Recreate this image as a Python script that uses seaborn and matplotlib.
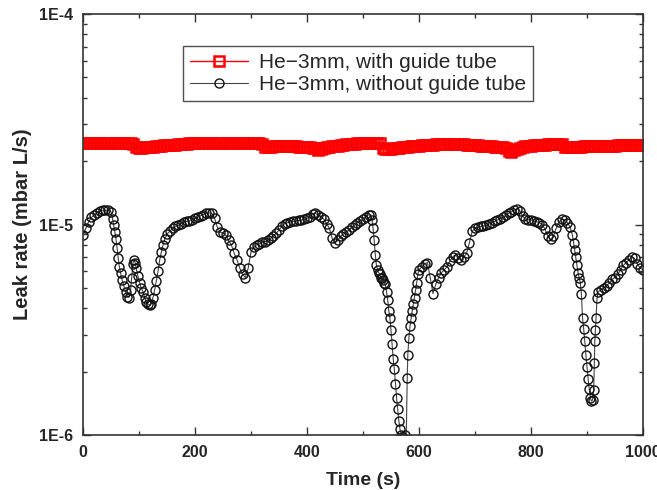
import numpy as np
import pandas as pd
import seaborn as sns
from matplotlib import pyplot as plt
from matplotlib.ticker import FixedLocator, FuncFormatter, LogLocator, MultipleLocator, NullFormatter

label_red = "He\u22123mm, with guide tube"
label_black = "He\u22123mm, without guide tube"

# leak rates are given in units of 1E-6 mbar L/s
red_time = np.arange(0, 1001, 5)
red_leak = [
    24.4, 24.4, 24.4, 24.4, 24.4, 24.4, 24.4, 24.4, 24.4, 24.4, 24.4, 24.4, 24.4, 24.4, 24.4, 24.4, 24.4, 24.4,
    24.2, 23.4, 23.2, 23.2, 23.3, 23.35, 23.4, 23.45, 23.5, 23.6, 23.7, 23.75,
    23.8, 23.85, 23.9, 23.95, 24.0, 24.1, 24.2, 24.25, 24.3, 24.35, 24.4, 24.45,
    24.5, 24.5, 24.5, 24.5, 24.5, 24.5, 24.5, 24.5, 24.5, 24.5, 24.5,
    24.5, 24.5, 24.5, 24.5, 24.5, 24.5, 24.5, 24.5, 24.5, 24.5, 24.5,
    24.2, 23.4, 23.4, 23.45, 23.5, 23.5, 23.55, 23.6, 23.6, 23.6,
    23.55, 23.5, 23.5, 23.45, 23.4, 23.4, 23.4, 23.3, 23.2, 23.0,
    22.6, 22.8, 23.1, 23.25, 23.4, 23.5, 23.6, 23.7, 23.8, 23.9,
    24.0, 24.05, 24.1, 24.2, 24.3, 24.35, 24.4, 24.45, 24.5, 24.5,
    24.5, 24.5, 24.4, 23.0, 22.8, 22.85, 22.9, 23.0, 23.1, 23.2,
    23.3, 23.35, 23.4, 23.5, 23.6, 23.65, 23.7, 23.75, 23.8, 23.85,
    23.9, 23.95, 24.0, 24.05, 24.1, 24.1, 24.1, 24.15, 24.2, 24.15,
    24.1, 24.05, 24.0, 23.95, 23.9, 23.85, 23.8, 23.75, 23.7, 23.65,
    23.6, 23.55, 23.5, 23.45, 23.4, 23.35, 23.3, 23.0, 22.4, 22.1,
    22.5, 22.9, 23.2, 23.35, 23.5, 23.6, 23.7, 23.75, 23.8, 23.85,
    23.9, 23.95, 24.0, 24.05, 24.1, 24.1, 24.1, 24.1, 23.4, 23.3,
    23.35, 23.4, 23.4, 23.45, 23.45, 23.5, 23.5, 23.55, 23.55, 23.6,
    23.6, 23.6, 23.65, 23.65, 23.7, 23.7, 23.7, 23.75, 23.75, 23.8,
    23.8, 23.85, 23.85, 23.85, 23.9, 23.9, 23.9,
]

black_time = [
    0, 5, 10, 15, 20, 25, 30, 35, 40, 45, 50,
    53, 55, 57, 59, 61, 63, 65, 67, 70, 73, 76, 79,
    82, 85, 87, 89, 91, 93, 95, 98, 101, 104, 107, 110,
    113, 116, 119, 122, 125, 128, 131, 134, 137, 140, 143, 146,
    150, 155, 160, 165, 170, 175, 180, 185, 190, 195, 200, 205,
    210, 215, 220, 225, 230, 235, 240, 245, 250, 255, 260, 265,
    270, 275, 280, 285, 290, 295, 300, 305, 310, 315, 320, 325,
    330, 335, 340, 345, 350, 355, 360, 365, 370, 375, 380, 385,
    390, 395, 400, 405, 410, 415, 420, 425, 430, 435, 440, 445,
    450, 455, 460, 465, 470, 475, 480, 485, 490, 495, 500, 505,
    510, 514, 516, 518, 520, 522, 524, 526, 528, 530, 532, 534,
    536, 538, 540, 542, 544, 546, 548, 550, 552, 554, 556, 558,
    560, 562, 564, 566, 568, 570, 572, 575, 577, 579, 580, 582,
    584, 586, 588, 590, 592, 594, 596, 598, 600, 605, 610, 615,
    620, 625, 630, 635, 640, 645, 650, 655, 660, 665, 670, 675,
    680, 685, 690, 695, 700, 705, 710, 715, 720, 725, 730, 735,
    740, 745, 750, 755, 760, 765, 770, 775, 780, 785, 790, 795,
    800, 805, 810, 815, 820, 825, 830, 835, 840, 845, 850, 855,
    860, 865, 870, 874, 876, 878, 880, 882, 884, 886, 888, 890,
    892, 894, 896, 898, 900, 902, 904, 906, 908, 910, 912, 913,
    914, 915, 916, 918, 920, 925, 930, 935, 940, 945, 950, 955,
    960, 965, 970, 975, 980, 985, 990, 995, 1000,
]
black_leak = [
    8.9, 9.6, 10.3, 10.8, 11.1, 11.4, 11.6, 11.7, 11.7, 11.7, 11.5,
    10.6, 9.9, 9.2, 8.5, 7.7, 6.9, 6.3, 5.9, 5.45, 5.1, 4.8, 4.55,
    4.5, 4.9, 5.6, 6.5, 6.8, 6.6, 6.2, 5.7, 5.3, 5.0, 4.8, 4.5,
    4.3, 4.2, 4.15, 4.2, 4.5, 4.9, 5.4, 6.0, 6.8, 7.4, 8.0, 8.5,
    9.0, 9.3, 9.6, 9.8, 9.9, 10.1, 10.3, 10.35, 10.4, 10.55, 10.7, 10.85,
    11.0, 11.15, 11.3, 11.35, 11.3, 10.7, 9.7, 9.2, 9.1, 8.9, 8.4, 8.0,
    7.3, 6.8, 6.2, 5.8, 5.6, 6.2, 7.4, 7.8, 8.0, 8.1, 8.25, 8.3,
    8.4, 8.6, 8.8, 9.1, 9.4, 9.8, 10.1, 10.2, 10.3, 10.35, 10.4, 10.45,
    10.5, 10.6, 10.7, 10.9, 11.2, 11.3, 11.1, 10.9, 10.6, 10.1, 9.6, 8.6,
    8.2, 8.4, 8.8, 9.0, 9.2, 9.45, 9.7, 9.95, 10.2, 10.4, 10.6, 10.9,
    11.1, 11.1, 10.5, 9.6, 8.4, 7.2, 6.4, 6.1, 5.9, 5.8, 5.6, 5.57,
    5.45, 5.3, 5.2, 4.8, 4.4, 3.9, 3.6, 3.15, 2.7, 2.3, 2.05, 1.74,
    1.5, 1.33, 1.17, 1.07, 1.0, 0.97, 0.97, 1.0, 0.9, 1.87, 2.4, 2.9,
    3.3, 3.6, 3.9, 4.2, 4.5, 4.9, 5.3, 5.8, 6.1, 6.3, 6.5, 6.6,
    5.6, 4.7, 5.2, 5.6, 5.9, 6.1, 6.3, 6.7, 7.0, 7.2, 6.9, 6.8,
    7.0, 7.3, 8.2, 9.3, 9.6, 9.7, 9.8, 9.85, 9.9, 10.05, 10.2, 10.35,
    10.5, 10.65, 10.8, 11.05, 11.3, 11.5, 11.7, 11.9, 11.6, 11.0, 10.6, 10.55,
    10.5, 10.4, 10.3, 10.2, 10.0, 9.5, 8.8, 8.5, 8.8, 9.6, 10.3, 10.6,
    10.5, 10.2, 9.7, 8.9, 8.2, 7.6, 7.0, 6.4, 5.9, 5.6, 5.3, 4.7,
    3.6, 3.2, 2.8, 2.4, 2.1, 1.85, 1.65, 1.5, 1.45, 1.47, 1.64, 2.2,
    2.8, 3.15, 3.6, 4.5, 4.8, 4.9, 5.0, 5.1, 5.3, 5.5, 5.6, 5.8,
    6.1, 6.4, 6.6, 6.8, 7.0, 6.9, 6.5, 6.2, 6.1,
]

y_ticks = [1e-6, 1e-5, 1e-4]
y_tick_labels = ["1E-6", "1E-5", "1E-4"]

df_red = pd.DataFrame({"time": red_time[:len(red_leak)], "leak": np.array(red_leak) * 1e-6})
df_black = pd.DataFrame({"time": black_time, "leak": np.array(black_leak) * 1e-6})

sns.set_style("ticks")
plt.rcParams["font.family"] = ["Liberation Sans", "DejaVu Sans"]

fig, ax = plt.subplots(figsize=(6.57, 4.9), dpi=100)
fig.subplots_adjust(left=0.1263, right=0.9787, top=0.9714, bottom=0.1122)

sns.lineplot(data=df_red, x="time", y="leak", ax=ax, color="red", lw=1.0,
             marker="s", markersize=6.5, markerfacecolor="none", markeredgecolor="red",
             markeredgewidth=1.8, label=label_red, estimator=None, sort=False)
sns.lineplot(data=df_black, x="time", y="leak", ax=ax, color="#444444", lw=0.8,
             marker="o", markersize=6.5, markerfacecolor="none", markeredgecolor="#111111",
             markeredgewidth=1.0, label=label_black, estimator=None, sort=False)

ax.set_yscale("log")
ax.set_xlim(0, 1000)
ax.set_ylim(1e-6, 1e-4)
ax.yaxis.set_major_locator(FixedLocator(y_ticks))
ax.yaxis.set_major_formatter(FuncFormatter(lambda v, p: y_tick_labels[y_ticks.index(v)] if v in y_ticks else ""))
ax.yaxis.set_minor_locator(LogLocator(base=10, subs=np.arange(2, 10)))
ax.yaxis.set_minor_formatter(NullFormatter())
ax.xaxis.set_major_locator(MultipleLocator(200))
ax.xaxis.set_minor_locator(MultipleLocator(100))

ax.tick_params(which="both", direction="in", top=True, right=True, width=1, color="#333333")
ax.tick_params(which="major", length=6, labelsize=11.5, pad=7)
ax.tick_params(which="minor", length=3)
for lab in ax.get_xticklabels() + ax.get_yticklabels():
    lab.set_fontweight("bold")
for sp in ax.spines.values():
    sp.set_linewidth(1.2)
    sp.set_color("#333333")

ax.set_xlabel("Time (s)", fontsize=14, fontweight="bold", labelpad=9)
ax.set_ylabel("Leak rate (mbar L/s)", fontsize=14.5, fontweight="bold", labelpad=5)

leg = ax.legend(loc="upper left", bbox_to_anchor=(0.178, 0.925), borderaxespad=0,
                frameon=True, fancybox=False, edgecolor="#222222", fontsize=15,
                handlelength=2.8, borderpad=0.35, labelspacing=0.15, handletextpad=0.5)
leg.get_frame().set_linewidth(1.0)

plt.savefig("out.png", dpi=100)
